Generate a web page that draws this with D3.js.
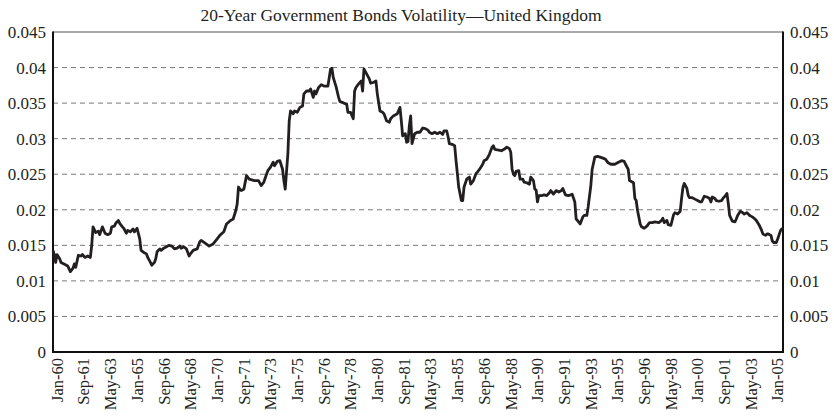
<!DOCTYPE html>
<html>
<head>
<meta charset="utf-8">
<script src="https://cdn.jsdelivr.net/npm/d3@7"></script>
<style>
  html, body { margin: 0; padding: 0; background: #fff; }
  svg { display: block; }
  text { font-family: "Liberation Serif", "Times New Roman", serif; fill: #231f20; }
</style>
</head>
<body>
<svg id="chart" width="834" height="416"></svg>
<script>
// ---- DATA ----
const title = "20-Year Government Bonds Volatility\u2014United Kingdom";

// months elapsed since Jan-1960 (monthly observations)
const monthsSinceJan1960 = [
  0,1,2,3,5,6,9,11,13,15,16,17,19,21,22,24,26,28,29,30,32,34,35,37,39,41,43,44,46,47,49,50,52,53,55,56,58,60,61,63,65,66,68,70,71,73,74,76,77,78,80,81,83,85,87,89,91,93,95,96,98,100,102,103,105,108,
  110,111,114,117,120,123,125,128,130,133,135,137,138,139,140,141,143,145,147,149,151,154,156,158,160,161,163,165,166,168,170,172,173,174,176,177,178,180,181,183,185,187,188,190,192,193,195,196,197,199,201,203,204,206,208,209,210,212,214,215,217,219,
  220,221,223,225,226,227,229,231,232,233,235,237,238,240,242,243,245,247,248,250,252,253,255,258,260,261,262,264,265,266,267,268,269,271,273,275,277,279,281,282,284,286,288,290,292,293,295,296,297,299,301,302,303,304,306,307,308,310,312,313,315,317,318,320,322,323,325,327,
  329,330,331,334,336,338,340,342,343,344,345,346,347,349,350,352,353,355,357,358,360,361,362,363,364,366,368,370,372,373,375,377,379,381,382,384,386,388,389,391,392,393,395,397,398,400,401,403,404,406,408,410,413,414,416,418,421,423,426,428,429,431,432,
  433,435,436,437,438,440,441,443,445,447,449,451,454,456,457,458,460,461,463,465,466,468,470,471,472,473,475,476,477,479,481,483,485,486,488,490,492,493,494,496,497,499,501,502,504,505,506,507,509,511,512,513,515,516,518,520,522,524,526,527,529,531,532,534,535,536,538,539,540,542,543,545,546,547
];
const volatility = [
  0.0143,0.0137,0.0126,0.0137,0.0131,0.0126,0.0123,0.0121,0.0113,0.0118,0.0124,0.0119,0.0136,0.0135,0.0137,0.0133,0.0135,0.0133,0.0150,0.0176,0.0168,0.0170,0.0165,0.0176,0.0167,0.0165,0.0167,0.0176,0.0177,0.0181,0.0185,0.0181,0.0176,0.0174,0.0167,0.0171,0.0169,0.0173,0.0169,0.0174,0.0159,0.0143,0.0140,0.0138,0.0133,0.0126,0.0122,0.0126,0.0131,0.0141,0.0145,0.0143,0.0146,0.0148,0.0150,0.0149,0.0145,0.0146,0.0149,0.0146,0.0148,0.0145,0.0135,0.0138,0.0143,0.0145,
  0.0155,0.0157,0.0153,0.0149,0.0152,0.0159,0.0164,0.0169,0.0180,0.0185,0.0187,0.0199,0.0208,0.0232,0.0229,0.0227,0.0229,0.0248,0.0243,0.0242,0.0241,0.0241,0.0234,0.0239,0.0250,0.0255,0.0260,0.0267,0.0262,0.0268,0.0269,0.0257,0.0241,0.0229,0.0279,0.0325,0.0339,0.0335,0.0339,0.0337,0.0344,0.0346,0.0363,0.0367,0.0367,0.0370,0.0358,0.0367,0.0363,0.0372,0.0376,0.0374,0.0374,0.0374,0.0398,0.0399,0.0386,0.0374,0.0358,0.0352,0.0351,0.0349,
  0.0349,0.0337,0.0337,0.0328,0.0367,0.0372,0.0377,0.0381,0.0367,0.0398,0.0391,0.0384,0.0378,0.0379,0.0381,0.0363,0.0339,0.0337,0.0335,0.0325,0.0323,0.0328,0.0332,0.0335,0.0344,0.0325,0.0304,0.0307,0.0295,0.0296,0.0318,0.0332,0.0293,0.0307,0.0309,0.0309,0.0315,0.0314,0.0312,0.0309,0.0307,0.0309,0.0307,0.0309,0.0306,0.0311,0.0311,0.0303,0.0293,0.0292,0.0290,0.0269,0.0251,0.0232,0.0213,0.0213,0.0232,0.0243,0.0246,0.0236,0.0241,0.0251,0.0253,0.0258,0.0264,0.0269,0.0271,0.0278,
  0.0288,0.0290,0.0285,0.0284,0.0283,0.0285,0.0288,0.0286,0.0281,0.0257,0.0250,0.0248,0.0254,0.0255,0.0243,0.0243,0.0239,0.0238,0.0236,0.0246,0.0241,0.0229,0.0228,0.0211,0.0220,0.0220,0.0221,0.0220,0.0224,0.0227,0.0222,0.0227,0.0225,0.0227,0.0230,0.0221,0.0220,0.0221,0.0222,0.0211,0.0187,0.0185,0.0180,0.0190,0.0192,0.0192,0.0204,0.0234,0.0257,0.0274,0.0275,0.0274,0.0272,0.0271,0.0266,0.0264,0.0264,0.0266,0.0269,0.0268,0.0264,0.0257,0.0241,
  0.0240,0.0238,0.0216,0.0213,0.0199,0.0180,0.0176,0.0174,0.0177,0.0182,0.0182,0.0183,0.0182,0.0185,0.0188,0.0182,0.0185,0.0179,0.0178,0.0193,0.0196,0.0194,0.0198,0.0216,0.0231,0.0237,0.0230,0.0220,0.0217,0.0217,0.0215,0.0213,0.0211,0.0211,0.0219,0.0218,0.0216,0.0211,0.0218,0.0216,0.0213,0.0212,0.0213,0.0216,0.0220,0.0223,0.0209,0.0192,0.0184,0.0183,0.0187,0.0192,0.0198,0.0197,0.0194,0.0196,0.0192,0.0190,0.0187,0.0185,0.0179,0.0171,0.0166,0.0164,0.0166,0.0166,0.0164,0.0156,0.0154,0.0154,0.0159,0.0170,0.0173,0.0172
];

const xTickMonths = [0,20,40,60,80,100,120,140,160,180,200,220,240,260,280,300,320,340,360,380,400,420,440,460,480,500,520,540];
const xTickLabels = ["Jan-60","Sep-61","May-63","Jan-65","Sep-66","May-68","Jan-70","Sep-71","May-73","Jan-75","Sep-76","May-78","Jan-80","Sep-81","May-83","Jan-85","Sep-86","May-88","Jan-90","Sep-91","May-93","Jan-95","Sep-96","May-98","Jan-00","Sep-01","May-03","Jan-05"];

const yTickValues = [0,0.005,0.01,0.015,0.02,0.025,0.03,0.035,0.04,0.045];
const yTickLabels = ["0","0.005","0.01","0.015","0.02","0.025","0.03","0.035","0.04","0.045"];

// ---- CHART ----
const svg = d3.select("#chart");
const plot = { left: 53, right: 783, top: 32, bottom: 352 };

const x = d3.scaleLinear().domain([0, 547]).range([plot.left, plot.right]);
const y = d3.scaleLinear().domain([0, 0.045]).range([plot.bottom, plot.top]);

// title
svg.append("text")
  .attr("x", 401).attr("y", 21)
  .attr("text-anchor", "middle")
  .style("font-size", "17.5px")
  .text(title);

// gridlines (dashed)
svg.append("g").selectAll("line")
  .data(yTickValues.filter(v => v > 0 && v < 0.045))
  .join("line")
  .attr("x1", plot.left).attr("x2", plot.right)
  .attr("y1", d => y(d)).attr("y2", d => y(d))
  .attr("stroke", "#7a7a7a").attr("stroke-width", 1)
  .attr("stroke-dasharray", "5,4");

// top border
svg.append("line")
  .attr("x1", plot.left).attr("x2", plot.right)
  .attr("y1", y(0.045)).attr("y2", y(0.045))
  .attr("stroke", "#555").attr("stroke-width", 1.2);

// left, right, bottom axis lines
const axisG = svg.append("g").attr("stroke", "#111").attr("stroke-width", 2);
axisG.append("line").attr("x1", plot.left).attr("x2", plot.left).attr("y1", plot.top - 0.5).attr("y2", plot.bottom + 1);
axisG.append("line").attr("x1", plot.right).attr("x2", plot.right).attr("y1", plot.top - 0.5).attr("y2", plot.bottom + 1);
axisG.append("line").attr("x1", plot.left - 1).attr("x2", plot.right + 1).attr("y1", plot.bottom).attr("y2", plot.bottom);

// y labels left & right
const yl = svg.append("g");
yl.selectAll("text.l").data(yTickValues).join("text")
  .attr("class", "l")
  .attr("x", 46).attr("y", d => y(d)).attr("dy", "0.35em")
  .attr("text-anchor", "end")
  .style("font-size", "17px")
  .text((d, i) => yTickLabels[i]);
yl.selectAll("text.r").data(yTickValues).join("text")
  .attr("class", "r")
  .attr("x", 790).attr("y", d => y(d)).attr("dy", "0.35em")
  .attr("text-anchor", "start")
  .style("font-size", "17px")
  .text((d, i) => yTickLabels[i]);

// x labels rotated
svg.append("g").selectAll("text").data(xTickMonths).join("text")
  .attr("transform", d => `translate(${x(d) + 4},358) rotate(-90)`)
  .attr("dy", "0.35em")
  .attr("text-anchor", "end")
  .style("font-size", "16.5px")
  .text((d, i) => xTickLabels[i]);

// series line
const series = monthsSinceJan1960.map((m, i) => ({ m, v: volatility[i] }));
svg.append("path")
  .datum(series)
  .attr("fill", "none")
  .attr("stroke", "#231f20")
  .attr("stroke-width", 2.8)
  .attr("stroke-linejoin", "round")
  .attr("d", d3.line().x(d => x(d.m)).y(d => y(d.v)));
</script>
</body>
</html>
